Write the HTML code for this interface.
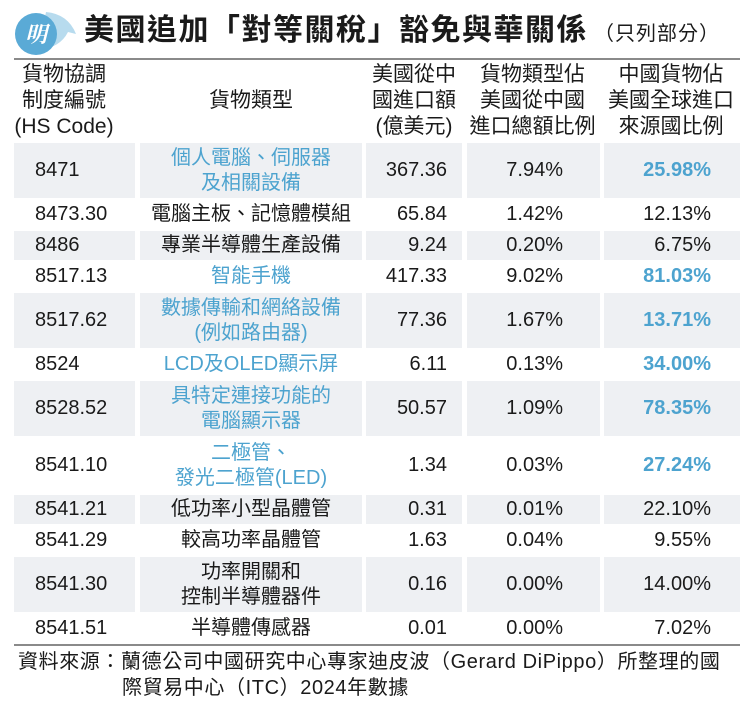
<!DOCTYPE html>
<html><head><meta charset="utf-8">
<style>
body{margin:0;width:750px;height:705px;background:#fff;font-family:"Liberation Sans","Noto Sans CJK TC",sans-serif;color:#1a1a1a;position:relative;overflow:hidden}
.abs{position:absolute}
.cell{position:absolute;background:#eef0f3}
.t{position:absolute;font-size:20px;line-height:25px;white-space:nowrap}
.blue{color:#4da3cf}
.b{font-weight:bold}
.hd{position:absolute;font-size:21px;line-height:26px;text-align:center;white-space:nowrap}
</style></head><body>
<svg class="abs" style="left:8px;top:8px" width="72" height="48">
<path d="M38 4 Q60 6 68 26 L60 24 Q52 40 30 42 Z" fill="#b7dbee"/>
<circle cx="28" cy="26" r="21" fill="#5aaad6"/>
<text x="28" y="34" text-anchor="middle" font-size="22" font-weight="bold" fill="#fff" font-family="Noto Serif CJK SC,serif" font-style="italic">明</text>
</svg>
<div class="abs" style="left:84px;top:12px;font-size:30px;font-weight:bold;line-height:38px;white-space:nowrap;letter-spacing:1.5px">美國追加「對等關稅」豁免與華關係<span style="font-size:20px;font-weight:normal;margin-left:6px;letter-spacing:1px">（只列部分）</span></div>
<div class="abs" style="left:14px;top:58px;width:726px;height:2px;background:#8a8a8a"></div>
<div class="hd" style="left:14px;top:62px;width:100px">貨物協調<br>制度編號<br>(HS Code)</div>
<div class="hd" style="left:140px;top:88px;width:222px">貨物類型</div>
<div class="hd" style="left:364px;top:62px;width:100px">美國從中<br>國進口額<br>(億美元)</div>
<div class="hd" style="left:465px;top:62px;width:135px">貨物類型佔<br>美國從中國<br>進口總額比例</div>
<div class="hd" style="left:602px;top:62px;width:138px">中國貨物佔<br>美國全球進口<br>來源國比例</div>
<div id="tbl"></div>
<div class="abs" style="left:14px;top:644px;width:726px;height:2px;background:#8a8a8a"></div>
<div class="abs" style="left:18px;top:649px;font-size:20px;line-height:26px;white-space:nowrap;letter-spacing:0.6px">資料來源：蘭德公司中國研究中心專家迪皮波（Gerard DiPippo）所整理的國<br><span style="padding-left:104px">際貿易中心（ITC）2024年數據</span></div>
<script>
const codes=["8471","8473.30","8486","8517.13","8517.62","8524","8528.52","8541.10","8541.21","8541.29","8541.30","8541.51"];
const names=[["個人電腦、伺服器","及相關設備"],["電腦主板、記憶體模組"],["專業半導體生產設備"],["智能手機"],["數據傳輸和網絡設備","(例如路由器)"],["LCD及OLED顯示屏"],["具特定連接功能的","電腦顯示器"],["二極管、","發光二極管(LED)"],["低功率小型晶體管"],["較高功率晶體管"],["功率開關和","控制半導體器件"],["半導體傳感器"]];
const importValues=["367.36","65.84","9.24","417.33","77.36","6.11","50.57","1.34","0.31","1.63","0.16","0.01"];
const shares=["7.94%","1.42%","0.20%","9.02%","1.67%","0.13%","1.09%","0.03%","0.01%","0.04%","0.00%","0.00%"];
const chinaShares=["25.98%","12.13%","6.75%","81.03%","13.71%","34.00%","78.35%","27.24%","22.10%","9.55%","14.00%","7.02%"];
const highlight=[1,0,0,1,1,1,1,1,0,0,0,0];
const tbl=document.getElementById('tbl');
const cols=[[14,121],[140,222],[366,96],[467,133],[604,136]];
let y=143;
codes.forEach((c,i)=>{
  const h=names[i].length>1?57:31;
  const row=document.createElement('div');
  
  
  tbl.appendChild(row);
  if(i%2===0){cols.forEach(([x,w])=>{const d=document.createElement('div');d.className='cell';d.style.cssText=`left:${x}px;top:${y}px;width:${w}px;height:${h-2}px`;
    
    
    row.appendChild(d);});}
  const mid=y+(h-2)/2-12.5;
  const hl=highlight[i]?' blue':'';
  const mk=(cls,txt,css,nm)=>{const d=document.createElement('div');d.className='t'+cls;d.innerHTML=txt;d.style.cssText=css;
    
    
    row.appendChild(d);};
  mk('',c,`left:35px;top:${mid}px`,'hs-code');
  const nt=y+(h-2)/2-12.5*names[i].length;
  mk(hl,names[i].join('<br>'),`left:140px;width:222px;text-align:center;top:${nt}px`,'goods-type');
  mk('',importValues[i],`right:${750-447}px;top:${mid}px`,'import-value');
  mk('',shares[i],`right:${750-563}px;top:${mid}px`,'share-of-us-imports');
  mk(hl+(highlight[i]?' b':''),chinaShares[i],`right:${750-711}px;top:${mid}px`,'china-share');
  y+=h;
});
</script>
</body></html>
